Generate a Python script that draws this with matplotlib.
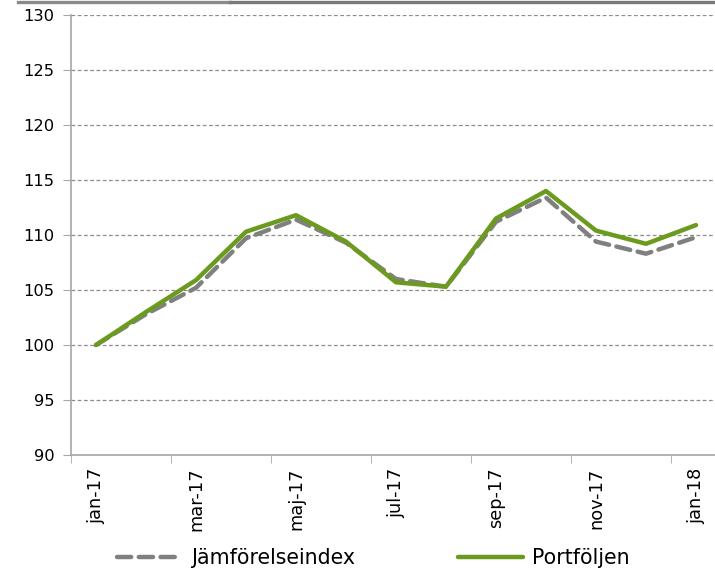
import matplotlib
matplotlib.use("Agg")
import matplotlib.pyplot as plt
from matplotlib.lines import Line2D

months = ["jan-17", "feb-17", "mar-17", "apr-17", "maj-17", "jun-17", "jul-17",
          "aug-17", "sep-17", "okt-17", "nov-17", "dec-17", "jan-18"]
jamforelseindex = [100.0, 102.8, 105.2, 109.7, 111.4, 109.3, 106.0,
                   105.3, 111.2, 113.4, 109.4, 108.3, 109.8]
portfoljen = [100.0, 103.0, 105.9, 110.3, 111.8, 109.4, 105.7,
              105.3, 111.5, 114.0, 110.4, 109.2, 110.9]
yticks = [90, 95, 100, 105, 110, 115, 120, 125, 130]

W, H = 715, 569
fig = plt.figure(figsize=(W / 100, H / 100), dpi=100)
ax = fig.add_axes([71 / W, 1 - 455 / H, 1 - 71 / W, (455 - 15) / H])

x = list(range(len(months)))
gray = "#808080"
green = "#6B9B1E"

ax.plot(x, jamforelseindex, color=gray, lw=3.2, dashes=(3.2, 1.7),
        dash_capstyle="round", solid_capstyle="round", label="Jämförelseindex", zorder=3)
ax.plot(x, portfoljen, color=green, lw=3.2, solid_capstyle="round",
        label="Portföljen", zorder=4)

ax.set_ylim(90, 130)
ax.set_xlim(-0.5, 12.38)
ax.set_yticks(yticks)
ax.set_yticklabels([str(v) for v in yticks], fontsize=11.7)

# labels at every other category centre, ticks at category boundaries
ax.set_xticks([i for i in x if i % 2 == 0])
ax.set_xticklabels([months[i] for i in x if i % 2 == 0], rotation=90, fontsize=12.8)
ax.tick_params(axis="x", which="major", length=0, pad=9)
ax.set_xticks([i - 0.5 for i in x if i % 2 == 0], minor=True)
ax.tick_params(axis="x", which="minor", length=6, color="#a6a6a6", direction="out")
ax.tick_params(axis="y", length=6, color="#a6a6a6", direction="out", pad=6)

for v in yticks[1:]:
    ax.axhline(v, color="#8c8c8c", lw=0.9, ls=(0, (3, 2)), zorder=1)

for s in ["top", "right"]:
    ax.spines[s].set_visible(False)
for s in ["left", "bottom"]:
    ax.spines[s].set_color("#a6a6a6")
    ax.spines[s].set_linewidth(1.2)

# top bar
fig.add_artist(Line2D([18 / W, 230 / W], [1 - 1.5 / H] * 2, color="#8a8a8a", lw=2.4))
fig.add_artist(Line2D([230 / W, 1.0], [1 - 1.5 / H] * 2, color="#7a7a7a", lw=2.4))

leg = fig.legend(loc="center left", bbox_to_anchor=(117 / W, 1 - 558 / H), ncol=2,
                 frameon=False, fontsize=14.8, handlelength=3.16, handletextpad=0.45,
                 columnspacing=5.0, borderaxespad=0, borderpad=0)

fig.savefig("out.png", dpi=100)
